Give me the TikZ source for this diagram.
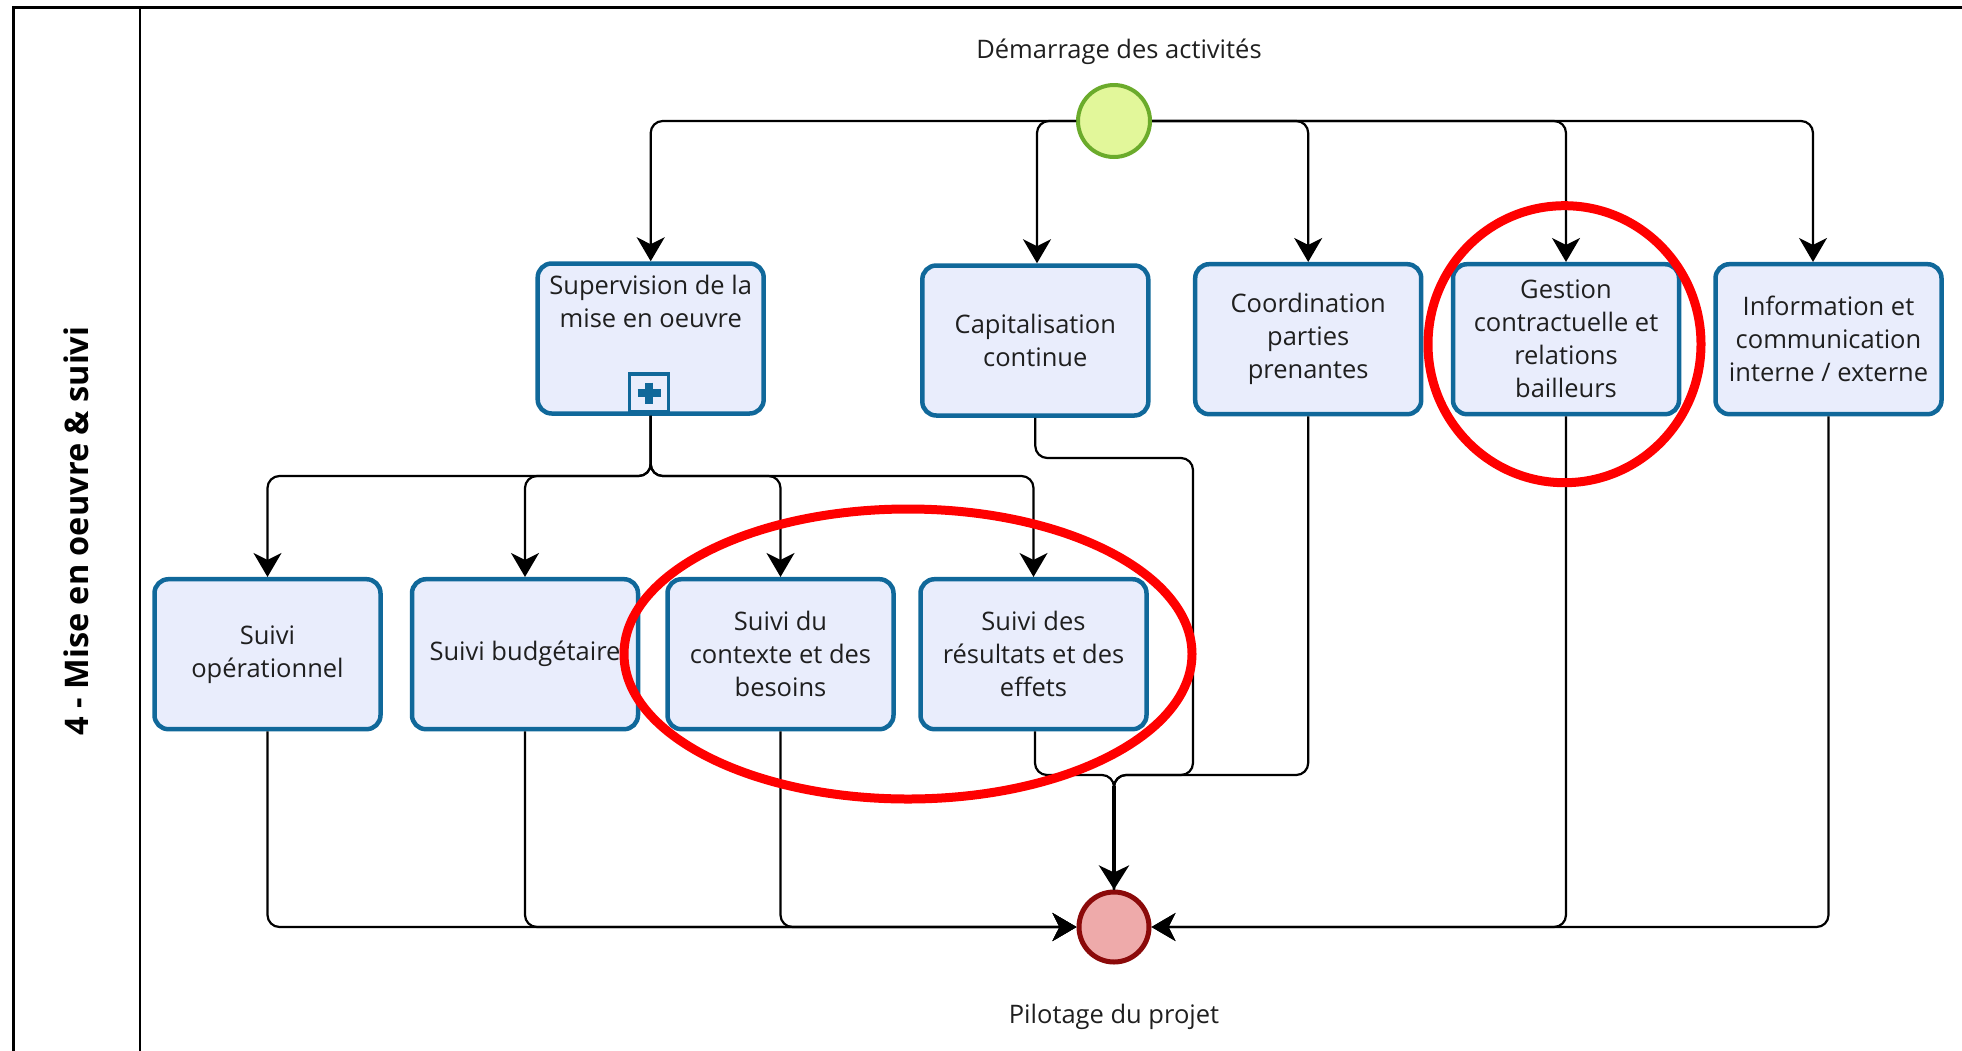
\documentclass[tikz,border=0pt]{standalone}
\usepackage{fontspec}
\setmainfont{Open Sans}
\usetikzlibrary{arrows.meta,calc}
\definecolor{taskblue}{HTML}{10689A}
\definecolor{taskfill}{HTML}{E9EDFC}
\definecolor{startfill}{HTML}{E2F79A}
\definecolor{startline}{HTML}{6BAB2B}
\definecolor{endfill}{HTML}{EEAAAA}
\definecolor{endline}{HTML}{8B0A0A}
\definecolor{hl}{HTML}{FF0000}
\begin{document}
\begin{tikzpicture}[x=1pt,y=-1pt,
  task/.style={draw=taskblue, fill=taskfill, line width=4.5pt, rounded corners=14pt,
    minimum width=226pt, minimum height=150pt, align=center,
    font=\fontsize{25.5}{33}\selectfont, text=black!88, inner sep=0pt},
  tasktext/.style={align=center, font=\fontsize{25.5}{33}\selectfont, text=black!88, inner sep=0pt},
  lbl/.style={font=\fontsize{25.5}{30}\selectfont, text=black!88, inner sep=0pt},
  flow/.style={draw=black, line width=2.2pt, rounded corners=12pt},
  arr/.style={-{Stealth[length=24pt,width=28pt,inset=7pt]}},
  hlring/.style={draw=hl, line width=9pt}
]
\useasboundingbox (0,0) rectangle (1962,1050);
% pool frame
\draw[line width=3pt] (13,1052) -- (13,7) -- (1964,7);
\draw[line width=2.6pt] (140,7) -- (140,1052);
\node[rotate=90, font=\bfseries\fontsize{32.5}{34}\selectfont, inner sep=0pt] (lane) at (76,531) {4 - Mise en oeuvre \& suivi};

% events
\node[circle, draw=startline, fill=startfill, line width=4pt, minimum size=72pt, inner sep=0pt] (start) at (1114,121) {};
\node[circle, draw=endline, fill=endfill, line width=5pt, minimum size=70pt, inner sep=0pt] (stop) at (1114,927) {};
\node[lbl] (startlbl) at (1119,52) {Démarrage des activités};
\node[lbl] (stoplbl) at (1114,1017) {Pilotage du projet};

% upper tasks
\node[task] (sup) at (650.7,338.5) {};
\node[tasktext] (suptxt) at (650.7,301) {Supervision de la\\mise en oeuvre};
\node[draw=taskblue, fill=taskfill, line width=3.5pt, minimum width=39pt, minimum height=38pt, inner sep=0pt] (plus) at (649.2,393) {};
\draw[taskblue, line width=7.5pt] ($(plus.center)+(-11.5,0)$) -- ($(plus.center)+(11.5,0)$);
\draw[taskblue, line width=7.5pt] ($(plus.center)+(0,-10.5)$) -- ($(plus.center)+(0,10.5)$);
\node[task] (cap) at (1035.3,340.5) {Capitalisation\\continue};
\node[task] (coo) at (1308.2,339.2) {Coordination\\parties\\prenantes};
\node[task] (ges) at (1566,339.2) {Gestion\\contractuelle et\\relations\\bailleurs};
\node[task] (inf) at (1828.5,339.2) {Information et\\communication\\interne / externe};

% lower tasks
\node[task] (op) at (267.5,654.2) {Suivi\\opérationnel};
\node[task] (bud) at (525,654.2) {Suivi budgétaire};
\node[task] (ctx) at (780.5,654.2) {Suivi du\\contexte et des\\besoins};
\node[task] (res) at (1033.5,654.2) {Suivi des\\résultats et des\\effets};

% flows from start
\draw[flow,arr] (start.west) -| (sup.north);
\draw[flow,arr] (start.west) -| ([xshift=1.7pt]cap.north);
\draw[flow,arr] (start.east) -| (coo.north);
\draw[flow,arr] (start.east) -| (ges.north);
\draw[flow,arr] (start.east) -| ([xshift=-15.5pt]inf.north);

% split from supervision
\coordinate (sj) at (650.7,476);
\draw[flow,arr] (sup.south) -- (sj) -| (op.north);
\draw[flow,arr] (sup.south) -- (sj) -| (bud.north);
\draw[flow,arr] (sup.south) -- (sj) -| (ctx.north);
\draw[flow,arr] (sup.south) -- (sj) -| (res.north);

% flows to end
\draw[flow,arr] (op.south) |- (stop.west);
\draw[flow,arr] (bud.south) |- (stop.west);
\draw[flow,arr] (ctx.south) |- (stop.west);
\draw[flow,arr] (ges.south) |- (stop.east);
\draw[flow,arr] (inf.south) |- (stop.east);

\coordinate (mj) at (1114,775);
\coordinate (cj) at (1193,458);
\draw[flow] ([xshift=1.5pt]res.south) |- (mj) -- (stop.north);
\draw[flow] (cap.south) |- (cj) |- (mj) -- (stop.north);
\draw[flow] (coo.south) |- (mj) -- (stop.north);
\draw[line width=4pt, -{Stealth[length=24pt,width=30pt,inset=7pt]}] ([yshift=-11pt]mj) -- (stop.north);

% highlight rings
\draw[hlring] (908,654) ellipse [x radius=284pt, y radius=145pt];
\draw[hlring] (1564.5,344.2) ellipse [x radius=136.5pt, y radius=138.5pt];
\end{tikzpicture}
\end{document}
